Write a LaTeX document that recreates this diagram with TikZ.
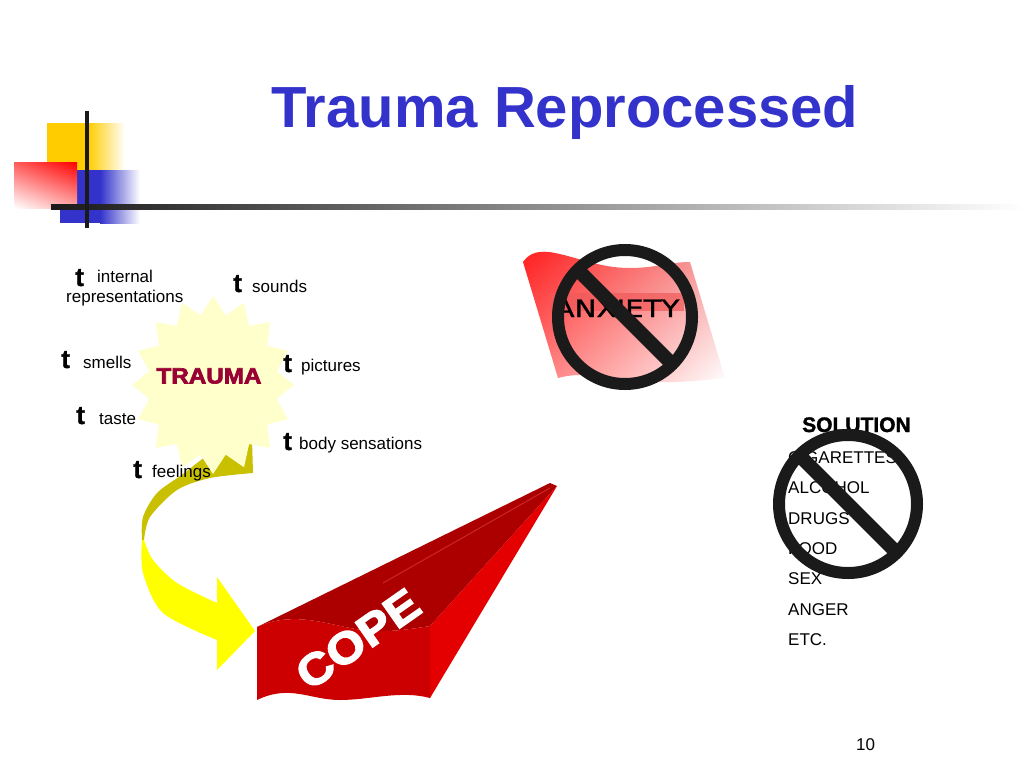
\documentclass[tikz,border=0pt]{standalone}
\usepackage{fontspec}
\setmainfont{Liberation Sans}
\newfontfamily\comicfont[FakeBold=1]{DejaVu Sans}
\newfontfamily\heavysans[FakeBold=3]{Liberation Sans Bold}
\newfontfamily\semiheavy[FakeBold=1.5]{Liberation Sans Bold}
\usetikzlibrary{calc,shadings}
\definecolor{titleblue}{RGB}{51,51,204}
\definecolor{traumared}{RGB}{153,0,51}
\definecolor{decoyellow}{RGB}{255,204,0}
\definecolor{decoblue}{RGB}{51,51,204}
\definecolor{decoredA}{RGB}{255,90,90}
\definecolor{decoredB}{RGB}{255,170,170}
\definecolor{starfill}{RGB}{255,255,204}
\definecolor{arrowolive}{RGB}{200,192,0}
\definecolor{arrowyellow}{RGB}{255,255,0}
\definecolor{copefront}{RGB}{204,0,0}
\definecolor{copetop}{RGB}{172,0,0}
\definecolor{copeside}{RGB}{228,0,0}
\definecolor{copestripe}{RGB}{200,40,40}
\definecolor{signblack}{RGB}{26,26,26}
\definecolor{flagA}{RGB}{255,30,30}
\definecolor{flagB}{RGB}{245,160,160}
\definecolor{flagC}{RGB}{255,120,120}
\definecolor{bandred}{RGB}{240,90,90}
\tikzset{
  lbl/.style={anchor=base west, font=\fontsize{17}{20}\selectfont, inner sep=0pt},
  bul/.style={anchor=base west, font=\semiheavy\fontsize{26}{26}\selectfont, inner sep=0pt},
  listitem/.style={anchor=base west, font=\fontsize{17}{20}\selectfont, inner sep=0pt},
  nosign/.style={circle, draw=signblack, line width=12pt, outer sep=0pt, inner sep=0pt},
  nobar/.style={draw=signblack, line width=14pt},
}
\begin{document}
\begin{tikzpicture}[x=1pt,y=-1pt]
\useasboundingbox (0,0) rectangle (1024,768);
\fill[white] (0,0) rectangle (1024,768);

% ---- corner decoration
\fill[decoyellow] (47,123) rectangle (88,170);
\shade[left color=decoyellow, right color=white] (88,123) rectangle (125,170);
\fill[decoblue] (60,170) rectangle (100,223);
\shade[left color=decoblue, right color=white] (100,170) rectangle (140,223);
\shade[upper left=decoredA, upper right=red, lower left=white, lower right=decoredB] (14,162) rectangle (77,208);
\shade[left color=signblack, right color=white] (51,204.5) rectangle (1024,209.5);
\draw[signblack, line width=4pt] (87,111) -- (87,228);

% ---- title
\node[font=\bfseries\fontsize{58}{60}\selectfont, text=titleblue, anchor=base, inner sep=0pt] (title) at (565,127) {Trauma Reprocessed};

% ---- curved arrow (behind star)
\fill[arrowolive] plot[smooth] coordinates {(142,540) (143,517) (157,493) (183,474) (212,452) (234,443) (252,440)}
  -- (253,473) -- plot[smooth] coordinates {(253,473) (210,478) (177,490) (150,517) (144,540)} -- cycle;
\fill[arrowyellow] plot[smooth] coordinates {(142,540) (143,573) (163,613) (217,640)}
  -- (217,670) -- (255,631) -- (217,577) -- (217,603)
  -- plot[smooth] coordinates {(217,603) (177,583) (153,560) (144,540)} -- cycle;

% ---- star
\begin{scope}[shift={(213,385)}]
\fill[starfill] (90:81 and 89) \foreach \k in {1,...,16} { -- (90+\k*22.5-11.25:65 and 71) -- (90+\k*22.5:81 and 89) } -- cycle;
\end{scope}
\node[font=\heavysans\fontsize{22}{22}\selectfont, text=traumared, inner sep=0pt] (trauma) at (209,376) {\scalebox{1.1}[1]{TRAUMA}};

% ---- sense labels
\node[bul] (t1) at (75,286) {t};
\node[lbl] (internal) at (97,282) {internal};
\node[lbl] (repr) at (66,302) {representations};
\node[bul] (t2) at (233,292) {t};
\node[lbl] (sounds) at (252,292) {sounds};
\node[bul] (t3) at (61,368) {t};
\node[lbl] (smells) at (83,368) {smells};
\node[bul] (t4) at (283,372) {t};
\node[lbl] (pictures) at (301,371) {pictures};
\node[bul] (t5) at (76,424) {t};
\node[lbl] (taste) at (99,424) {taste};
\node[bul] (t6) at (283,450) {t};
\node[lbl] (body) at (299,449) {body sensations};
\node[bul] (t7) at (133,478) {t};
\node[lbl] (feelings) at (152,477) {feelings};

% ---- COPE wedge
\fill[copetop] (257,627) -- (550,483) -- (557,486) -- (430,626)
  .. controls (405,630) and (380,634) .. (350,628)
  .. controls (320,622) and (290,612) .. (257,627) -- cycle;
\fill[copeside] (430,626) -- (557,486) -- (430,698) -- cycle;
\fill[copefront] (257,627) .. controls (290,612) and (320,622) .. (350,628)
  .. controls (380,634) and (405,630) .. (430,626) -- (430,698)
  .. controls (400,690) and (370,700) .. (340,700)
  .. controls (310,700) and (290,684) .. (257,700) -- cycle;
\draw[copestripe, line width=1pt] (383,583) -- (550,488);
\node[rotate=35, text=white, font=\heavysans\fontsize{44}{44}\selectfont, inner sep=0pt] (cope) at (358,639) {\scalebox{1.12}[1]{COPE}};

% ---- ANXIETY flag and sign
\shade[upper left=flagA, upper right=flagB, lower left=flagC, lower right=white]
  (523,262) .. controls (530,252) and (540,250) .. (555,253)
  .. controls (580,258) and (600,268) .. (630,268)
  .. controls (655,268) and (670,262) .. (690,262)
  -- (725,378) .. controls (690,382) and (660,384) .. (630,380)
  .. controls (600,376) and (580,372) .. (558,378) -- cycle;
\fill[bandred, opacity=0.7] (550,293) rectangle (684,311);
\node[anchor=base, font=\comicfont\fontsize{24}{24}\selectfont, inner sep=0pt] (anxiety) at (617,317) {\scalebox{1.22}[1]{ANXIETY}};
\node[nosign, minimum size=134pt] (sign1) at (625,317) {};
\draw[nobar] (sign1.north west) -- (sign1.south east);

% ---- solution list and sign
\node[anchor=base west, font=\semiheavy\fontsize{21}{22}\selectfont, inner sep=0pt] (solution) at (802,432) {SOLUTION};
\node[listitem] (cig) at (788,463) {CIGARETTES};
\node[listitem] (alc) at (788,493) {ALCOHOL};
\node[listitem] (drugs) at (788,524) {DRUGS};
\node[listitem] (food) at (788,554) {FOOD};
\node[listitem] (sex) at (788,584) {SEX};
\node[listitem] (anger) at (788,615) {ANGER};
\node[listitem] (etc) at (788,645) {ETC.};
\node[nosign, minimum size=138pt] (sign2) at (848,504) {};
\draw[nobar] (sign2.north west) -- (sign2.south east);

% ---- page number
\node[anchor=base west, font=\fontsize{17}{20}\selectfont, inner sep=0pt] (pagenum) at (856,750) {10};
\end{tikzpicture}
\end{document}
